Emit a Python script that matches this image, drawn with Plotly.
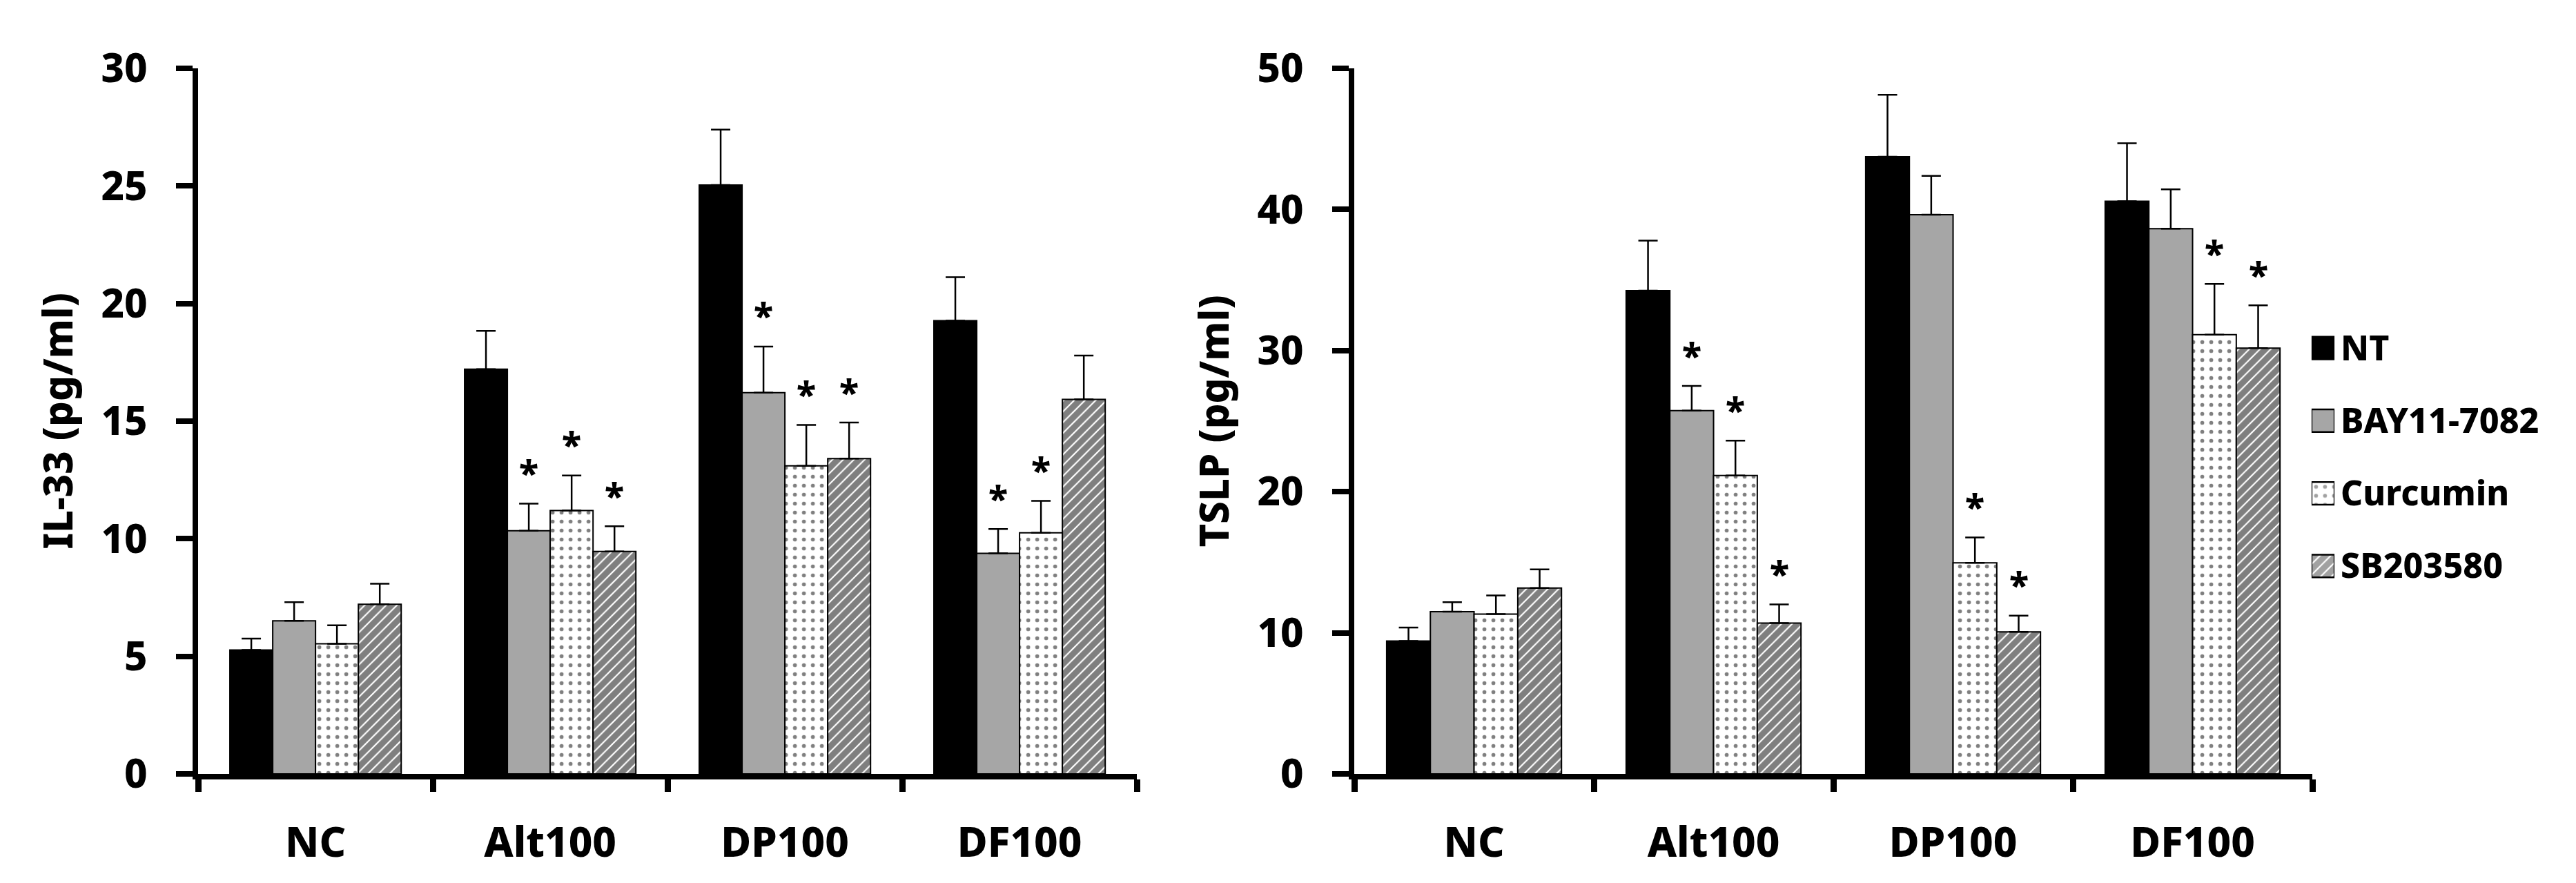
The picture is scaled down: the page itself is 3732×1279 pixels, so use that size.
import plotly.graph_objects as go

# data
groups = ['NC', 'Alt100', 'DP100', 'DF100']
treatments = ['NT', 'BAY11-7082', 'Curcumin', 'SB203580']

il33_mean = {
    'NT': [5.27, 17.21, 25.04, 19.27],
    'BAY11-7082': [6.51, 10.34, 16.21, 9.38],
    'Curcumin': [5.53, 11.20, 13.10, 10.25],
    'SB203580': [7.21, 9.46, 13.41, 15.92],
}
il33_sd = {
    'NT': [0.48, 1.63, 2.35, 1.85],
    'BAY11-7082': [0.79, 1.15, 1.96, 1.03],
    'Curcumin': [0.79, 1.49, 1.74, 1.36],
    'SB203580': [0.88, 1.07, 1.53, 1.87],
}
il33_sig = {
    'NT': [0, 0, 0, 0],
    'BAY11-7082': [0, 1, 1, 1],
    'Curcumin': [0, 1, 1, 1],
    'SB203580': [0, 1, 1, 0],
}

tslp_mean = {
    'NT': [9.42, 34.24, 43.73, 40.58],
    'BAY11-7082': [11.49, 25.74, 39.62, 38.63],
    'Curcumin': [11.33, 21.15, 14.96, 31.13],
    'SB203580': [13.17, 10.69, 10.06, 30.17],
}
tslp_sd = {
    'NT': [0.95, 3.55, 4.39, 4.11],
    'BAY11-7082': [0.68, 1.75, 2.76, 2.79],
    'Curcumin': [1.32, 2.47, 1.80, 3.59],
    'SB203580': [1.32, 1.32, 1.15, 3.03],
}
tslp_sig = {
    'NT': [0, 0, 0, 0],
    'BAY11-7082': [0, 1, 0, 0],
    'Curcumin': [0, 1, 1, 1],
    'SB203580': [0, 1, 1, 1],
}

# look of each treatment
fill = {'NT': 'black', 'BAY11-7082': '#a6a6a6', 'Curcumin': 'white', 'SB203580': 'white'}
shape = {'NT': '', 'BAY11-7082': '', 'Curcumin': '.', 'SB203580': '/'}
psize = {'NT': 10, 'BAY11-7082': 10, 'Curcumin': 13, 'SB203580': 11}
psolid = {'NT': 0.3, 'BAY11-7082': 0.3, 'Curcumin': 0.15, 'SB203580': 0.8}

FONT = 'Noto Sans'
WEIGHT = 800
BARGAP = 0.27

fig = go.Figure()

panels = [
    (il33_mean, il33_sd, il33_sig, 'x', 'y'),
    (tslp_mean, tslp_sd, tslp_sig, 'x2', 'y2'),
]
for mean, sd, sig, xa, ya in panels:
    for t in treatments:
        fig.add_trace(go.Bar(
            x=groups, y=mean[t], name=t, showlegend=False,
            xaxis=xa, yaxis=ya,
            marker=dict(color=fill[t], line=dict(color='black', width=2),
                        pattern=dict(shape=shape[t], fgcolor='black', fillmode='overlay',
                                     size=psize[t], solidity=psolid[t])),
            error_y=dict(type='data', symmetric=False, array=sd[t], arrayminus=[0] * len(groups),
                         color='black', thickness=2.5, width=14),
        ))

# significance stars above the error bars
annos = []
bw = (1 - BARGAP) / len(treatments)
for mean, sd, sig, xa, ya in panels:
    for j, t in enumerate(treatments):
        for i, g in enumerate(groups):
            if sig[t][i]:
                annos.append(dict(
                    x=i - (1 - BARGAP) / 2 + bw * (j + 0.5), y=mean[t][i] + sd[t][i],
                    xref=xa, yref=ya, text='*', showarrow=False,
                    yanchor='middle', yshift=46,
                    font=dict(family=FONT, size=52, color='black', weight=WEIGHT),
                ))

# legend drawn as a small bar panel so the boxes can be large and patterned
fig.add_trace(go.Bar(
    x=[1] * len(treatments), y=treatments, orientation='h', width=0.31,
    xaxis='x3', yaxis='y3', showlegend=False, hoverinfo='skip',
    marker=dict(color=[fill[t] for t in treatments], line=dict(color='black', width=2.5),
                pattern=dict(shape=[shape[t] for t in treatments], fgcolor='black',
                             fillmode='overlay', size=[psize[t] for t in treatments],
                             solidity=[psolid[t] for t in treatments])),
))

tick_font = dict(family=FONT, size=58, color='black', weight=WEIGHT)
cat_font = dict(family=FONT, size=60, color='black', weight=WEIGHT)
title_font = dict(family=FONT, size=58, color='black', weight=WEIGHT)

xcommon = dict(showline=True, linewidth=8, linecolor='black', ticks='outside', tickson='boundaries',
               ticklen=18, tickwidth=9, tickcolor='black', showgrid=False, zeroline=False,
               tickfont=cat_font, ticklabelstandoff=40, automargin=False)
ycommon = dict(showline=True, linewidth=8, linecolor='black', ticks='outside', ticklen=24,
               tickwidth=8, tickcolor='black', showgrid=False, zeroline=False,
               tickfont=tick_font, ticklabelstandoff=30, domain=[0.1298, 0.9289], automargin=False)

fig.update_layout(
    width=3732, height=1279,
    margin=dict(l=0, r=0, t=0, b=0, autoexpand=False),
    plot_bgcolor='white', paper_bgcolor='white',
    barmode='group', bargap=BARGAP, bargroupgap=0,
    font=dict(family=FONT, color='black'),
    xaxis=dict(xcommon, domain=[0.0748, 0.4392], anchor='y'),
    yaxis=dict(ycommon, range=[0, 30], dtick=5, anchor='x',
               title=dict(text='IL-33 (pg/ml)', font=title_font, standoff=25)),
    xaxis2=dict(xcommon, domain=[0.5236, 0.8955], anchor='y2'),
    yaxis2=dict(ycommon, range=[0, 50], dtick=10, anchor='x2',
                title=dict(text='TSLP (pg/ml)', font=title_font, standoff=25)),
    xaxis3=dict(domain=[0.8952, 0.9041], range=[0, 1], visible=False, anchor='y3',
                fixedrange=True, automargin=False),
    yaxis3=dict(domain=[0.3241, 0.6532], anchor='x3', side='right', type='category',
                categoryorder='array', categoryarray=treatments, autorange='reversed',
                showline=False, ticks='', showgrid=False, zeroline=False, ticklabelstandoff=8,
                automargin=False,
                tickfont=dict(family=FONT, size=50, color='black', weight=WEIGHT)),
    annotations=annos,
)

fig.write_html('out.html')
